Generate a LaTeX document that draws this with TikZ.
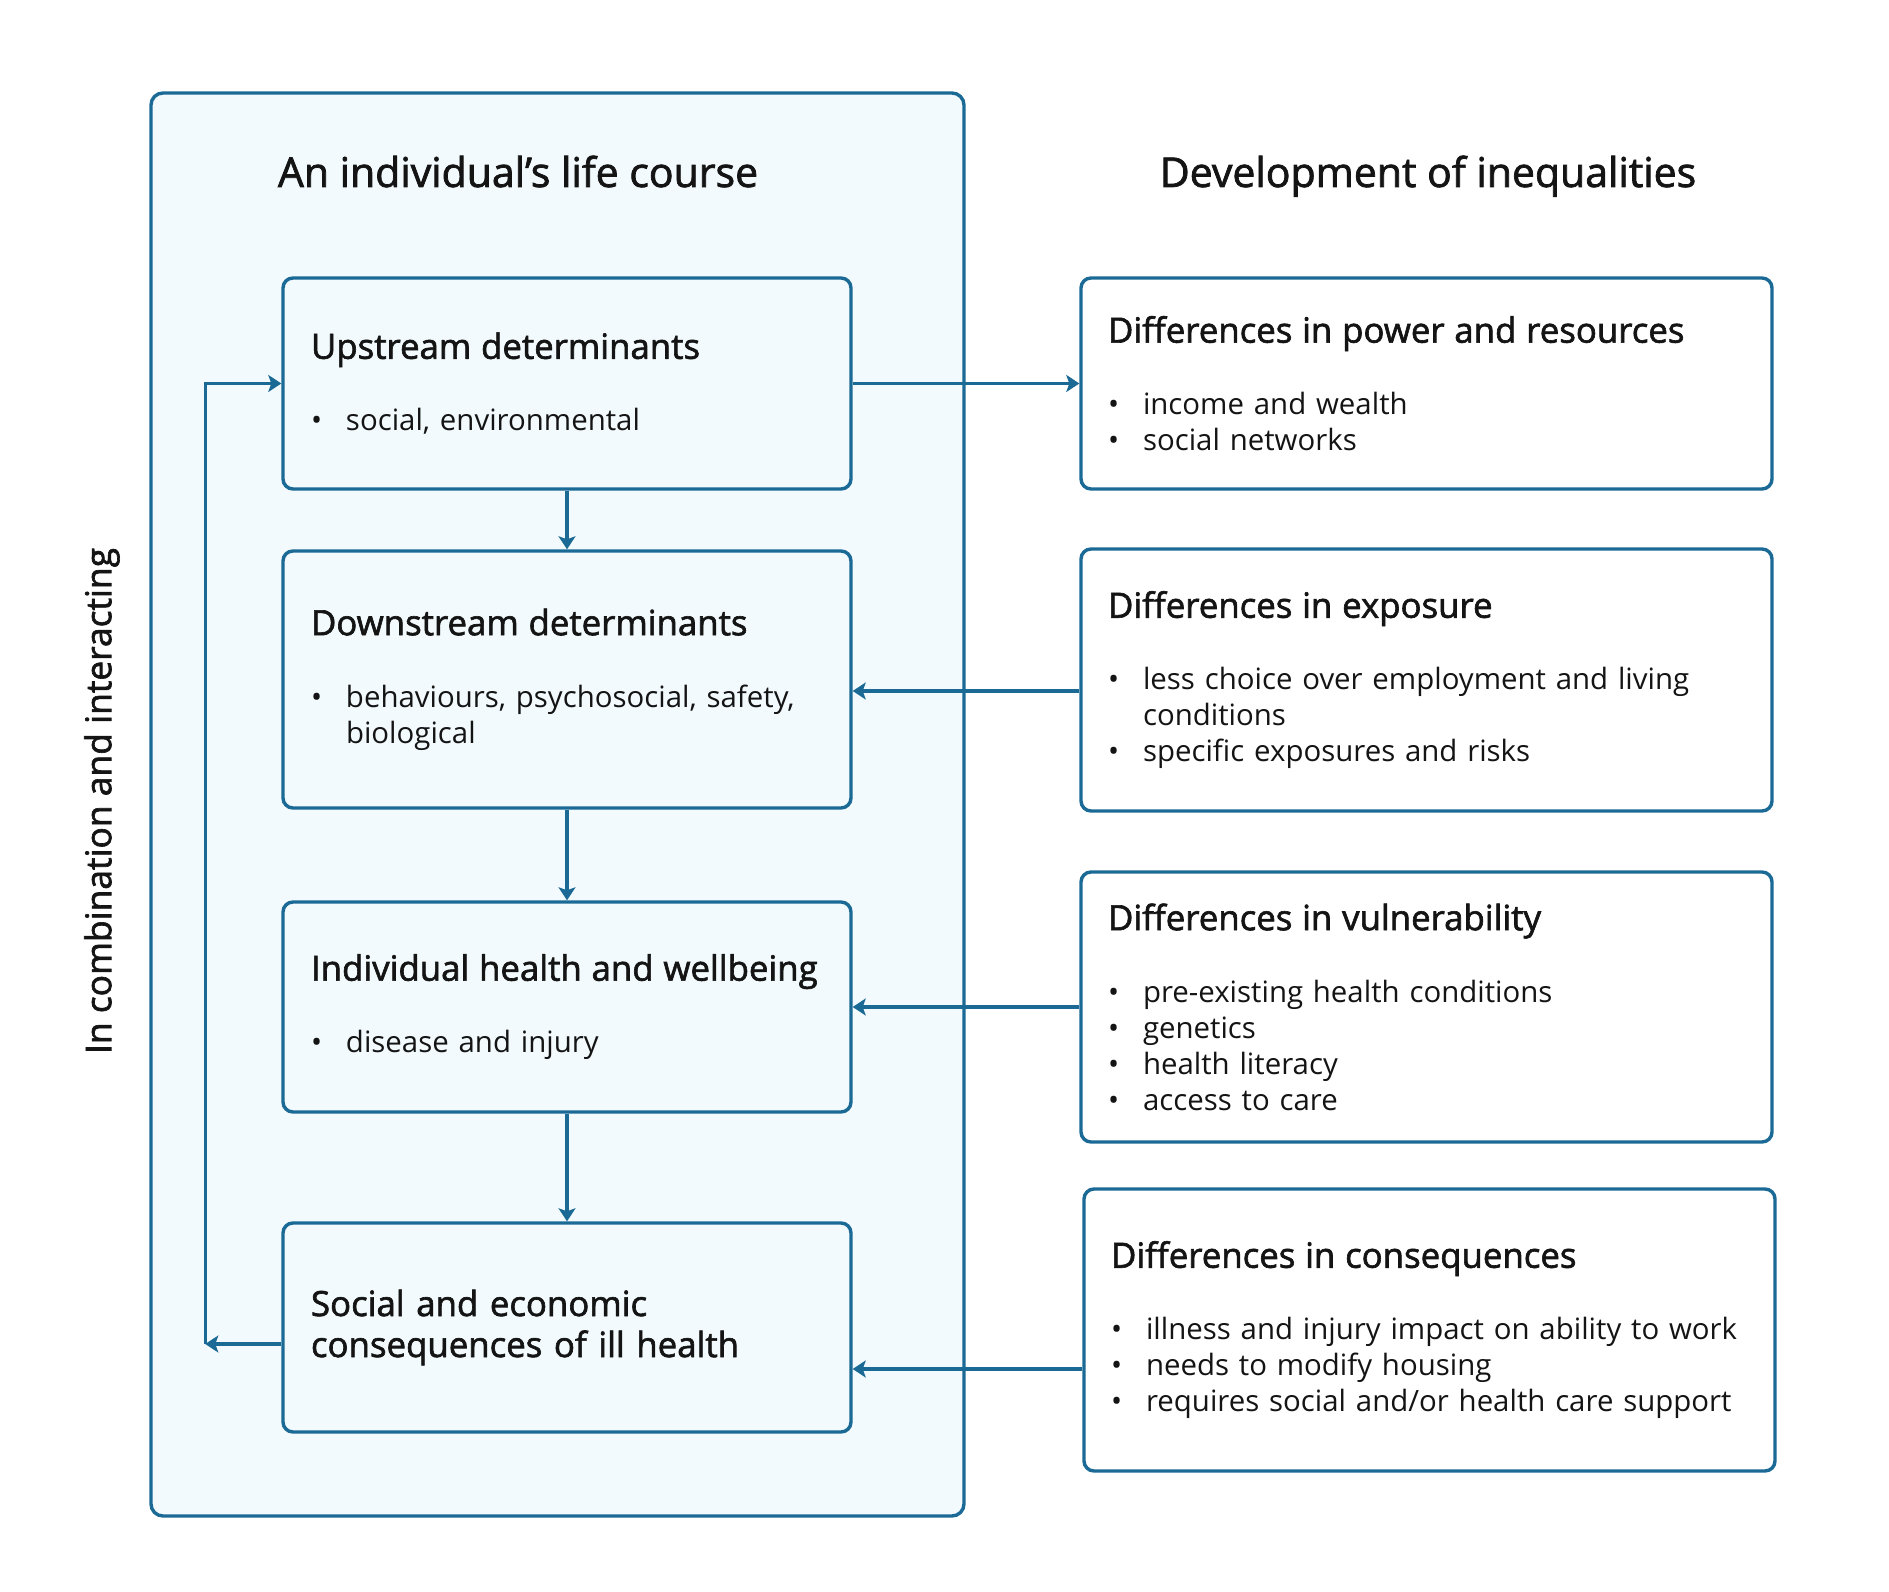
\documentclass[tikz,border=0pt]{standalone}
\usepackage{fontspec}
\setmainfont{Open Sans}
\newfontfamily\semib{Open Sans}[FakeBold=1.8]
\usetikzlibrary{arrows.meta,positioning,calc}
\definecolor{ocean}{HTML}{1B6A96}
\definecolor{ice}{HTML}{F2FAFD}
\definecolor{ink}{HTML}{141414}
\newcommand{\itm}[1]{\makebox[17.5pt][l]{\textbullet}#1}
\newcommand{\hd}[1]{{\semib\fontsize{17.4}{20.5}\selectfont #1}}
\tikzset{
  box/.style={rectangle, rounded corners=5pt, draw=ocean, line width=1.7pt, align=left,
              inner xsep=14pt, inner ysep=0pt, text=ink, font=\fontsize{14.7}{18}\selectfont},
  lbox/.style={box, fill=ice, text width=256pt, minimum height=#1},
  rbox/.style={box, fill=white, inner xsep=13.5pt, text width=318.5pt, minimum height=#1},
  outer/.style={rectangle, rounded corners=6pt, draw=ocean, line width=1.7pt, fill=ice,
                minimum width=406.5pt, minimum height=711.5pt},
  ttl/.style={font=\semib\fontsize{20.5}{24}\selectfont, text=ink, anchor=base},
  side/.style={font=\semib\fontsize{17.7}{20}\selectfont, text=ink, rotate=90},
  flow/.style={-{Stealth[length=6.5pt,width=8.5pt,inset=1.5pt]}, draw=ocean, line width=1.6pt}
}

\begin{document}
\begin{tikzpicture}[x=1pt, y=1pt]
 \useasboundingbox (0,0) rectangle (944.5,795.5);
 \node[outer] (life) at (278.75,393.25) {};
 \node[ttl] (lct) at (259,702) {An individual’s life course};
 \node[ttl] (dit) at (714,702) {Development of inequalities};
 \node[side] (comb) at (51,395) {In combination and interacting};

 \node[lbox=105.5pt] (up) at (283.5,603.75) {\hd{Upstream determinants}\\[18pt]\itm{social, environmental}};
 \node[lbox=128.5pt] (down) at (283.5,455.75) {\hd{Downstream determinants}\\[18pt]\itm{behaviours, psychosocial, safety,}\\\hspace*{17.5pt}biological};
 \node[lbox=105pt] (ind) at (283.5,292) {\hd{Individual health and wellbeing}\\[18pt]\itm{disease and injury}};
 \node[lbox=104.5pt, font=\semib\fontsize{17.4}{20.5}\selectfont] (soc) at (283.5,131.75) {Social and economic\\consequences of ill health};

 \node[rbox=105.5pt] (pow) at (713.25,603.75) {\hd{Differences in power and resources}\\[18pt]\itm{income and wealth}\\\itm{social networks}};
 \node[rbox=131pt] (exp) at (713.25,455.5) {\hd{Differences in exposure}\\[18pt]\itm{less choice over employment and living}\\\hspace*{17.5pt}conditions\\\itm{specific exposures and risks}};
 \node[rbox=135pt] (vul) at (713.25,292) {\hd{Differences in vulnerability}\\[18pt]\itm{pre-existing health conditions}\\\itm{genetics}\\\itm{health literacy}\\\itm{access to care}};
 \node[rbox=141pt] (cons) at (714.75,130.5) {\hd{Differences in consequences}\\[18pt]\itm{illness and injury impact on ability to work}\\\itm{needs to modify housing}\\\itm{requires social and/or health care support}};

 \coordinate (loop) at ([xshift=-38pt,yshift=-8.25pt]soc.west);
 \draw[flow](up.east)--(up.east -| pow.west);\draw[flow](up.south)--(down.north);
 \draw[flow](down.south)--(ind.north);\draw[flow](ind.south)--(soc.north);
 \draw[flow]([yshift=-5.5pt]exp.west)--([yshift=-5.5pt]exp.west -| down.east);
 \draw[flow](vul.west)--(vul.west -| ind.east);
 \draw[flow]([yshift=-19.5pt]cons.west)--([yshift=-19.5pt]cons.west -| soc.east);
 \draw[flow]([yshift=-8.25pt]soc.west)--(loop);\draw[flow](loop)|-(up.west);
\end{tikzpicture}
\end{document}
